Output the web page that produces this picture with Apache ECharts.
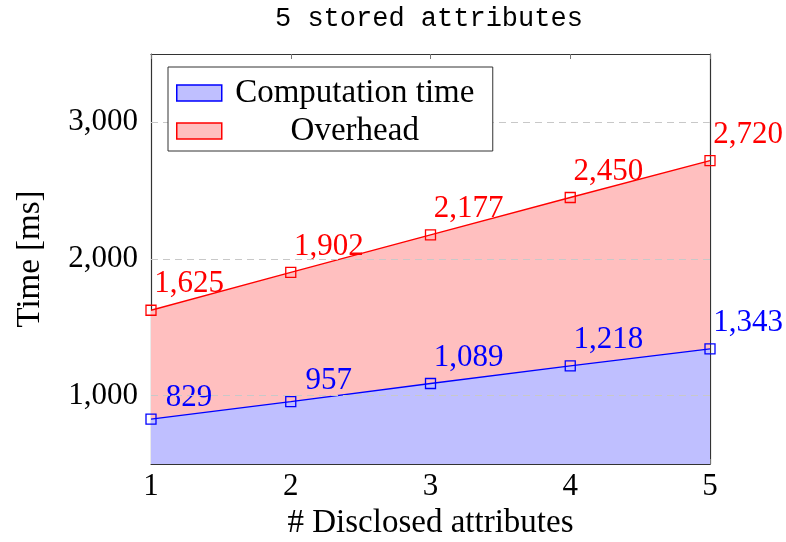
<!DOCTYPE html>
<html>
<head>
<meta charset="utf-8">
<script src="https://cdn.jsdelivr.net/npm/echarts@6/dist/echarts.min.js"></script>
<style>
  html, body { margin: 0; padding: 0; background: #fff; overflow: hidden; }
  #chart { width: 786px; height: 542px; }
</style>
</head>
<body>
<div id="chart"></div>
<script>
// Number of disclosed attributes (x positions)
const disclosed = [1, 2, 3, 4, 5];
// Computation time per run [ms]
const computationTime = [829, 957, 1089, 1218, 1343];
// Computation time plus overhead [ms]
const totalTime = [1625, 1902, 2177, 2450, 2720];
// Labelled y ticks
const yTicks = [1000, 2000, 3000];
const seriesNames = ['Computation time', 'Overhead'];

const SERIF = '"Liberation Serif", "Times New Roman", serif';
const fmt = v => v.toLocaleString('en-US');

// Labels containing a comma sit slightly higher (descender of the comma)
function points(values) {
  return values.map((v, i) => ({
    value: [disclosed[i], v],
    label: { offset: [38, v >= 1000 ? -26 : -21] }
  }));
}

function makeSeries(name, values, line, fill, z) {
  return {
    name: name,
    type: 'line',
    z: z,
    data: points(values),
    symbol: 'rect',
    symbolSize: 10,
    itemStyle: { color: 'rgba(0,0,0,0)', borderColor: line, borderWidth: 1.3 },
    lineStyle: { color: line, width: 1.3 },
    areaStyle: { color: fill, opacity: 1, origin: 'start' },
    label: {
      show: true,
      position: 'inside',
      align: 'center',
      verticalAlign: 'middle',
      color: line,
      fontFamily: SERIF,
      fontSize: 31,
      formatter: p => fmt(p.value[1])
    },
    emphasis: { disabled: true },
    animation: false
  };
}

const chart = echarts.init(document.getElementById('chart'), null, { renderer: 'canvas', width: 786, height: 542 });

const overhead = makeSeries(seriesNames[1], totalTime, '#ff0000', '#ffbfbf', 2);
const computation = makeSeries(seriesNames[0], computationTime, '#0000ff', '#bfbfff', 3);
// Horizontal dashed grid lines at the labelled y ticks
computation.markLine = {
  silent: true,
  symbol: 'none',
  label: { show: false },
  lineStyle: { color: '#c8c8c8', type: [7, 5], width: 1 },
  data: yTicks.map(v => ({ yAxis: v })),
  animation: false
};

const axisLine = { show: true, lineStyle: { color: '#333', width: 1.2 } };
const tick = { show: true, inside: true, length: 5, lineStyle: { color: '#777', width: 1 } };

chart.setOption({
  backgroundColor: '#fff',
  animation: false,
  title: {
    text: '5 stored attributes',
    left: 270,
    top: 0,
    textStyle: { fontFamily: '"Liberation Mono", "DejaVu Sans Mono", monospace', fontSize: 27, fontWeight: 'normal', color: '#000' }
  },
  legend: {
    orient: 'vertical',
    left: 168,
    top: 67,
    z: 20,
    padding: [7, 10, 1, 8],
    itemGap: 0,
    itemWidth: 45,
    itemHeight: 16,
    backgroundColor: '#fff',
    borderColor: '#333',
    borderWidth: 1,
    selectedMode: false,
    formatter: '{a|{name}}',
    textStyle: {
      fontFamily: SERIF,
      fontSize: 33,
      lineHeight: 38,
      color: '#000',
      rich: { a: { width: 256, height: 38, align: 'center', lineHeight: 38, fontFamily: SERIF, fontSize: 33, color: '#000' } }
    },
    data: [
      { name: seriesNames[0], icon: 'rect', itemStyle: { color: '#bfbfff', borderColor: '#0000ff', borderWidth: 1.5 } },
      { name: seriesNames[1], icon: 'rect', itemStyle: { color: '#ffbfbf', borderColor: '#ff0000', borderWidth: 1.5 } }
    ]
  },
  grid: { left: 151, right: 76, top: 54, bottom: 78, containLabel: false, outerBoundsMode: 'none' },
  xAxis: [
    {
      type: 'value',
      min: 1,
      max: 5,
      interval: 1,
      name: '# Disclosed attributes',
      nameLocation: 'middle',
      nameGap: 43,
      nameTextStyle: { fontFamily: SERIF, fontSize: 33, color: '#000' },
      axisLine: axisLine,
      axisTick: tick,
      axisLabel: { fontFamily: SERIF, fontSize: 31, color: '#000', margin: 7 },
      splitLine: { show: false }
    },
    {
      type: 'value',
      position: 'top',
      min: 1,
      max: 5,
      interval: 1,
      axisLine: axisLine,
      axisTick: tick,
      axisLabel: { show: false },
      splitLine: { show: false }
    }
  ],
  yAxis: [
    {
      type: 'value',
      min: 500,
      max: 3500,
      name: 'Time [ms]',
      nameLocation: 'middle',
      nameGap: 104,
      nameTextStyle: { fontFamily: SERIF, fontSize: 33, color: '#000' },
      axisLine: axisLine,
      axisTick: Object.assign({}, tick, { customValues: yTicks }),
      axisLabel: { fontFamily: SERIF, fontSize: 31, color: '#000', margin: 13, customValues: yTicks, formatter: v => fmt(v) },
      splitLine: { show: false }
    },
    {
      type: 'value',
      position: 'right',
      min: 500,
      max: 3500,
      axisLine: axisLine,
      axisTick: Object.assign({}, tick, { customValues: yTicks }),
      axisLabel: { show: false, customValues: yTicks },
      splitLine: { show: false }
    }
  ],
  series: [overhead, computation]
});
</script>
</body>
</html>
